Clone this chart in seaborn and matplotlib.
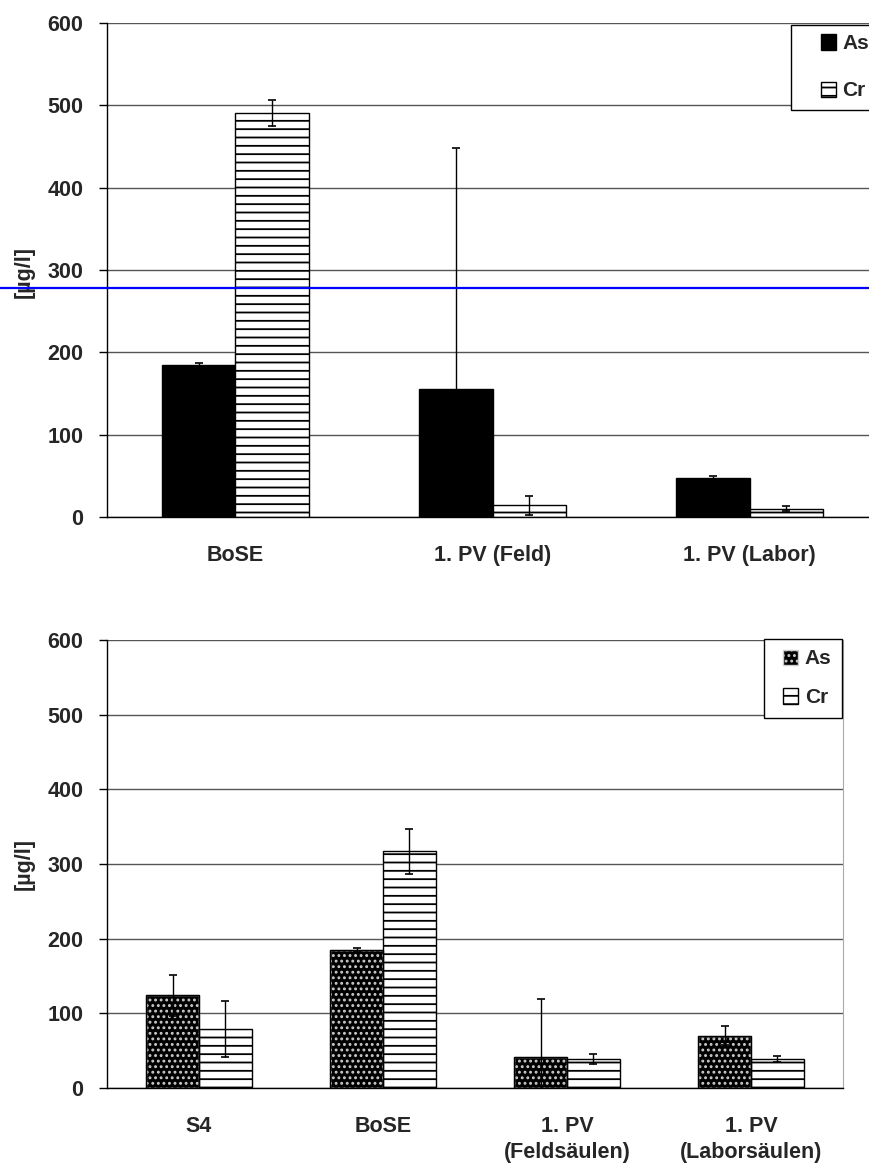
import numpy as np
import pandas as pd
import matplotlib
matplotlib.use('Agg')
import matplotlib.pyplot as plt
import matplotlib.patches as mpatches
from matplotlib.legend_handler import HandlerPatch
import seaborn as sns

# ---- data ----
elements = ['As', 'Cr']

top_categories = ['BoSE', '1. PV (Feld)', '1. PV (Labor)']
top_as = [185, 155, 47]
top_as_err = [2, 293, 3]
top_cr = [491, 14, 10]
top_cr_err = [16, 11, 3]
top_limit = 278

bot_categories = ['S4', 'BoSE', '1. PV\n(Feldsäulen)', '1. PV\n(Laborsäulen)']
bot_as = [124, 185, 42, 70]
bot_as_err = [27, 3, 77, 13]
bot_cr = [79, 317, 39, 39]
bot_cr_err = [38, 30, 7, 4]

y_ticks = [0, 100, 200, 300, 400, 500, 600]
y_label = '[µg/l]'

# ---- style ----
sns.set_style('white')
plt.rcParams['font.family'] = ['Liberation Sans', 'DejaVu Sans']
plt.rcParams['font.weight'] = 'bold'
plt.rcParams['hatch.linewidth'] = 1.3

fig = plt.figure(figsize=(8.69, 11.67), dpi=100)
ax1 = fig.add_axes([0.1231, 0.5570, 0.8873, 0.4233])
ax2 = fig.add_axes([0.1231, 0.0677, 0.8470, 0.3839])


def draw(ax, cats, as_v, as_e, cr_v, cr_e, dotted):
    n = len(cats)
    df = pd.DataFrame({
        'cat': list(cats) * 2,
        'elem': ['As'] * n + ['Cr'] * n,
        'val': list(as_v) + list(cr_v),
    })
    sns.barplot(data=df, x='cat', y='val', hue='elem', order=cats,
                hue_order=elements, palette={'As': 'black', 'Cr': 'white'},
                width=0.572, gap=0, errorbar=None, legend=False, ax=ax,
                edgecolor='black', linewidth=1, saturation=1)
    bars = list(ax.patches[:2 * n])
    for p in bars[n:]:
        p.set_hatch('--')
    if dotted:
        for p in bars[:n]:
            p.set_edgecolor('#cccccc')
            p.set_hatch('...')
            ax.add_patch(mpatches.Rectangle(p.get_xy(), p.get_width(), p.get_height(),
                                            fill=False, edgecolor='black', lw=1,
                                            zorder=p.get_zorder() + 0.1))
    xs = [p.get_x() + p.get_width() / 2 for p in bars]
    ax.errorbar(xs, list(as_v) + list(cr_v), yerr=list(as_e) + list(cr_e),
                fmt='none', ecolor='black', elinewidth=1, capsize=3,
                capthick=1.2, zorder=5)

    ax.set_ylim(0, 600)
    ax.set_xlim(-0.5, n - 0.5)
    ax.set_yticks(y_ticks)
    ax.set_xticks(range(n))
    ax.set_xticklabels(cats, fontsize=15.5, fontweight='bold', linespacing=1.3)
    ax.set_xticks(np.arange(-0.5, n, 1.0), minor=True)
    ax.tick_params(axis='x', which='major', length=0, pad=20)
    ax.tick_params(axis='x', which='minor', length=7, width=1, direction='out', color='black')
    ax.tick_params(axis='y', length=6, width=1, direction='out', pad=11,
                   labelsize=15.5, color='black', left=True)
    for lab in ax.get_yticklabels():
        lab.set_fontweight('bold')
    ax.set_xlabel('')
    ax.set_ylabel(y_label, fontsize=15.5, fontweight='bold')
    ax.yaxis.grid(True, color='#555555', lw=1)
    ax.xaxis.grid(False)
    ax.set_axisbelow(True)
    for s in ['top', 'right']:
        ax.spines[s].set_visible(False)
    for s in ['left', 'bottom']:
        ax.spines[s].set_color('black')
        ax.spines[s].set_linewidth(1)


draw(ax1, top_categories, top_as, top_as_err, top_cr, top_cr_err, dotted=False)
draw(ax2, bot_categories, bot_as, bot_as_err, bot_cr, bot_cr_err, dotted=True)

ax1.yaxis.set_label_coords(-0.0934, 0.496)
ax2.yaxis.set_label_coords(-0.0978, 0.5)
ax2.spines['right'].set_visible(True)
ax2.spines['right'].set_color('#aaaaaa')

# limit line across the whole figure width
ax1.axhline(top_limit, xmin=-107 / 771, xmax=(869 - 107) / 771, color='blue',
            lw=1.6, clip_on=False, zorder=6)


def right_square(legend, orig_handle, xdescent, ydescent, width, height, fontsize):
    s = height
    return mpatches.Rectangle((width - s - xdescent, -ydescent), s, s)


handler = HandlerPatch(patch_func=right_square)

leg_kw = dict(frameon=True, fancybox=False, edgecolor='black', framealpha=1,
              handleheight=0.75, handletextpad=0.3,
              prop={'weight': 'bold', 'size': 15}, borderaxespad=0)

h_top = [mpatches.Patch(facecolor='black', edgecolor='black', label='As'),
         mpatches.Patch(facecolor='white', edgecolor='black', hatch='--', label='Cr')]
l1 = fig.legend(handles=h_top, loc='upper left', bbox_to_anchor=(791 / 869, 1 - 25 / 1167),
                labelspacing=1.35, borderpad=0.45, handlelength=1.7,
                handler_map={mpatches.Patch: handler}, **leg_kw)
l1.get_frame().set_linewidth(1)

h_bot = [mpatches.Patch(facecolor='black', edgecolor='#cccccc', hatch='...', label='As'),
         mpatches.Patch(facecolor='white', edgecolor='black', hatch='--', label='Cr')]
l2 = fig.legend(handles=h_bot, loc='upper left', bbox_to_anchor=(764 / 869, 1 - 639 / 1167),
                labelspacing=0.95, borderpad=0.5, handlelength=1.15,
                handler_map={mpatches.Patch: handler}, **leg_kw)
l2.get_frame().set_linewidth(1)

fig.savefig('out.png', dpi=100)
